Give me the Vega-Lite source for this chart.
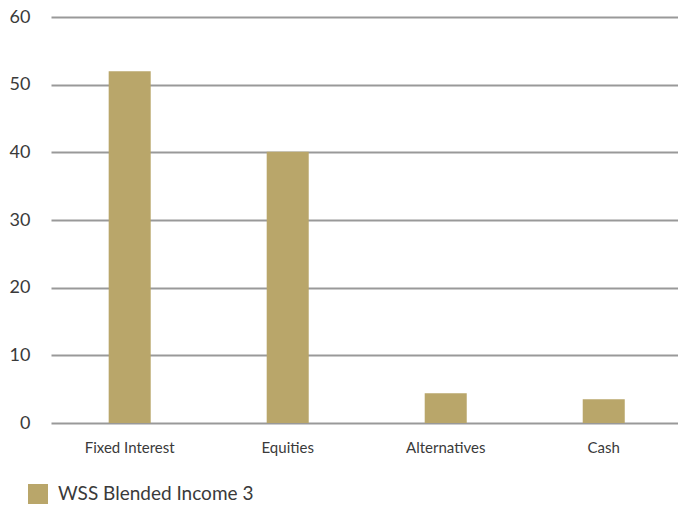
{
  "$schema": "https://vega.github.io/schema/vega-lite/v6.json",
  "autosize": {"type": "none"},
  "width": 627,
  "height": 406,
  "padding": {"left": 51, "top": 17, "right": 0, "bottom": 89},
  "background": "white",
  "data": {
    "values": [
      {"category": "Fixed Interest", "value": 52.0, "series": "WSS Blended Income 3"},
      {"category": "Equities", "value": 40.1, "series": "WSS Blended Income 3"},
      {"category": "Alternatives", "value": 4.4, "series": "WSS Blended Income 3"},
      {"category": "Cash", "value": 3.5, "series": "WSS Blended Income 3"}
    ]
  },
  "mark": {"type": "bar"},
  "encoding": {
    "x": {
      "field": "category",
      "type": "nominal",
      "sort": null,
      "title": null,
      "scale": {"paddingInner": 0.734, "paddingOuter": 0.351, "align": 0.52},
      "axis": {
        "labelAngle": 0,
        "ticks": false,
        "domain": false,
        "labelPadding": 17,
        "labelFont": "Lato",
        "labelFontSize": 15,
        "labelColor": "#3a3a3a"
      }
    },
    "y": {
      "field": "value",
      "type": "quantitative",
      "title": null,
      "scale": {"domain": [0, 60], "nice": false},
      "axis": {
        "values": [0, 10, 20, 30, 40, 50, 60],
        "ticks": false,
        "domain": false,
        "labelPadding": 21,
        "labelFont": "Lato",
        "labelFontSize": 18,
        "labelColor": "#3a3a3a",
        "grid": true,
        "gridColor": "#999999",
        "gridWidth": 2,
        "gridOpacity": 1
      }
    },
    "color": {
      "field": "series",
      "type": "nominal",
      "scale": {"range": ["#B9A66A"]},
      "legend": {
        "title": null,
        "orient": "none",
        "legendX": -23,
        "legendY": 467,
        "symbolType": "square",
        "symbolSize": 400,
        "symbolStrokeWidth": 0,
        "symbolOpacity": 1,
        "labelFont": "Lato",
        "labelFontSize": 19,
        "labelLimit": 500,
        "labelColor": "#3a3a3a",
        "labelOffset": 10
      }
    }
  },
  "config": {"view": {"stroke": null}}
}
